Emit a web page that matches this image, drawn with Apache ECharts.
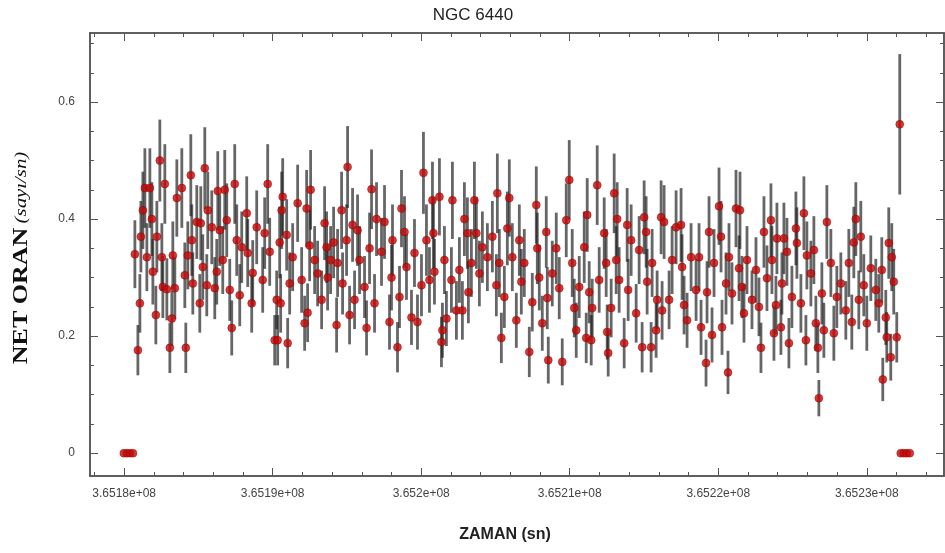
<!DOCTYPE html>
<html>
<head>
<meta charset="utf-8">
<script src="https://cdn.jsdelivr.net/npm/echarts@6/dist/echarts.min.js"></script>
<style>
html,body{margin:0;padding:0;background:#fff;}
#c{width:945px;height:553px;}
</style>
</head>
<body>
<div id="c"></div>
<script>
// ---- data (time in seconds relative to T0) ----
const T0 = 365180000;
const timeOffsets = [
-20,180,390,590,
722,924,1059,1126,1260,1395,1529,1731,1865,1933,2134,2202,2403,2538,2605,2739,2874,3076,3210,3277,3412,3546,3882,4084,4151,4286,4487,4555,4622,4891,5092,5160,5294,5429,5563,5630,5899,6101,6235,6303,6437,6639,6773,6908,7109,7244,7446,7580,7782,7916,8252,8320,8588,8656,8925,9328,9462,9664,9799,10135,10269,
10336,10471,10538,10605,10673,10942,11009,11143,11345,11681,11950,12152,12286,12353,12488,12555,12824,13026,13295,13496,13631,13698,13900,14101,14303,14370,14639,14706,14975,15043,15177,15379,15513,15715,15849,16185,16320,16522,16656,16858,16992,17328,17530,17866,18001,18068,18404,18538,18673,18875,19009,19345,19547,19749,20018,20152,20354,20555,20757,
20824,20892,21228,21362,21429,21564,21698,22034,22102,22371,22572,22774,22908,23110,23177,23379,23581,23715,23917,24119,24455,24791,25060,25127,25261,25396,25598,25799,25934,26135,26404,26606,26741,26942,27278,27480,27749,27816,27951,28152,28421,28489,28556,28825,29094,29295,29497,29766,29968,30169,30304,30438,30640,30976,31110,31178,
31312,31447,31514,31850,31984,32321,32455,32522,32590,32791,32993,33127,33195,33329,33665,33867,33934,34136,34472,34674,34875,35010,35144,35212,35480,35548,35817,35884,36153,36220,36354,36691,36892,37161,37497,37565,37699,37901,38170,38506,38707,38842,39178,39245,39380,39581,39716,40052,40187,40254,40523,40657,40724,40926,41195,41397,
41464,41598,41733,41935,42271,42540,42741,42876,43077,43279,43548,43615,43750,43884,43951,44220,44288,44422,44624,44758,44960,45229,45296,45565,45767,45901,45968,46237,46439,46573,46708,46775,46977,47111,47313,47582,47784,47985,48254,48590,48792,48994,49128,49263,49464,49599,49800,50002,50271,50607,50809,51011,51078,51280,51347,51481,51616,51683,51817,52019,52221,
52288,52490,52691,52893
];
const rates = [
0,0,0,0,
.34,.176,.256,.37,.415,.453,.335,.453,.40,.31,.236,.37,.50,.335,.284,.46,.28,.18,.23,.338,.282,.436,.453,.304,.18,.338,.475,.364,.29,.395,.256,.393,.318,.487,.287,.415,.386,.282,.31,.448,.381,.33,.45,.398,.279,.214,.46,.364,.27,.352,.41,.342,.256,.308,.386,.296,.376,.46,.344,.193,.262,
.193,.36,.256,.415,.438,.373,.188,.29,.335,.427,.296,.222,.418,.24,.355,.45,.33,.307,.262,.393,.352,.30,.33,.36,.219,.325,.415,.29,.364,.489,.236,.39,.262,.381,.33,.284,.214,.35,.451,.256,.40,.344,.395,.224,.30,.364,.181,.267,.418,.378,.318,.232,.342,.224,.287,.479,.364,.296,.432,
.376,.31,.438,.19,.21,.33,.23,.296,.432,.244,.313,.244,.40,.376,.275,.325,.432,.376,.307,.352,.335,.37,.287,.444,.325,.197,.267,.384,.436,.335,.227,.364,.293,.325,.173,.258,.424,.35,.30,.222,.378,.265,.159,.307,.35,.282,.156,.398,.467,.325,.248,.21,.284,.352,.197,.407,
.275,.193,.248,.458,.296,.376,.325,.207,.171,.248,.444,.33,.40,.296,.188,.39,.279,.364,.239,.347,.181,.403,.378,.293,.181,.325,.21,.262,.403,.244,.395,.262,.33,.386,.39,.318,.253,.227,.335,.279,.335,.215,.154,.275,.378,.202,.325,.422,.37,.215,.29,.138,.335,.273,.418,.316,
.415,.284,.239,.33,.262,.313,.25,.18,.378,.299,.398,.33,.205,.253,.367,.215,.29,.367,.344,.188,.267,.384,.359,.256,.41,.193,.338,.307,.347,.222,.18,.094,.273,.21,.395,.325,.205,.267,.29,.244,.325,.224,.36,.40,.262,.37,.287,.222,.316,.279,.256,.313,.126,.232,.198,.359,.164,.335,.293,.198,.562,
0,0,0,0
];
const errors = [
0,0,0,0,
.058,.043,.050,.061,.066,.068,.058,.068,.063,.056,.050,.061,.070,.058,.053,.068,.053,.043,.047,.058,.053,.066,.068,.056,.043,.058,.070,.061,.053,.063,.050,.063,.056,.070,.053,.066,.063,.053,.056,.068,.061,.058,.068,.063,.053,.047,.068,.061,.053,.061,.063,.058,.050,.056,.063,.056,.061,.068,.058,.043,.050,
.043,.061,.050,.066,.066,.061,.043,.053,.058,.066,.056,.047,.066,.050,.061,.068,.058,.056,.050,.063,.061,.056,.058,.061,.047,.058,.066,.053,.061,.070,.050,.063,.050,.061,.058,.053,.047,.061,.068,.050,.063,.058,.063,.047,.056,.061,.043,.053,.066,.061,.056,.047,.058,.047,.053,.070,.061,.056,.066,
.061,.056,.066,.043,.047,.058,.047,.056,.066,.050,.056,.050,.063,.061,.053,.058,.066,.061,.056,.061,.058,.061,.053,.068,.058,.043,.053,.063,.066,.058,.047,.061,.056,.058,.043,.050,.066,.061,.056,.047,.061,.053,.040,.056,.061,.053,.040,.063,.068,.058,.050,.047,.053,.061,.043,.063,
.053,.043,.050,.068,.056,.061,.058,.047,.040,.050,.068,.058,.063,.056,.043,.063,.053,.061,.050,.058,.043,.063,.061,.056,.043,.058,.047,.050,.063,.050,.063,.050,.058,.063,.063,.056,.050,.047,.058,.053,.058,.047,.040,.053,.061,.047,.058,.066,.061,.047,.053,.037,.058,.053,.066,.056,
.066,.053,.050,.058,.050,.056,.050,.043,.061,.056,.063,.058,.047,.050,.061,.047,.053,.061,.058,.043,.053,.063,.061,.050,.063,.043,.058,.056,.058,.047,.043,.031,.053,.047,.063,.058,.047,.053,.053,.050,.058,.047,.061,.063,.050,.061,.053,.047,.056,.053,.050,.056,.037,.047,.043,.061,.040,.058,.056,.043,.120,
0,0,0,0
];
// ---- axes ----
const X_MIN = 365177700, X_MAX = 365235200;
const Y_MIN = -0.039, Y_MAX = 0.718;
const xMajorTicks = [365180000, 365190000, 365200000, 365210000, 365220000, 365230000];
const xMinorTicks = [365178000,365182000,365184000,365186000,365188000,365192000,365194000,365196000,365198000,365202000,365204000,365206000,365208000,365212000,365214000,365216000,365218000,365222000,365224000,365226000,365228000,365232000,365234000];
const yMajorTicks = [0, 0.2, 0.4, 0.6];
const yMinorTicks = [0.05, 0.1, 0.15, 0.25, 0.3, 0.35, 0.45, 0.5, 0.55, 0.65, 0.7];

const AX = '#555';
const LBL = {color:'#444', fontSize:12, fontFamily:'"Liberation Sans", Arial, sans-serif'};

function xFmt(v){
  let s = (v/1e8).toFixed(4).replace(/0+$/,'').replace(/\.$/,'');
  return s + 'e+08';
}
function yFmt(v){ return v === 0 ? '0' : String(+v.toFixed(2)); }

function xAxisDef(pos, ticks, len, labels){
  return {
    type:'value', position:pos, min:X_MIN, max:X_MAX,
    axisLine:{show:true, onZero:false, lineStyle:{color:AX, width:1.5}},
    axisTick:{show:true, inside:true, length:len, customValues:ticks, lineStyle:{color:AX, width:1}},
    axisLabel: labels ? Object.assign({show:true, customValues:ticks, formatter:xFmt, margin:12}, LBL) : {show:false},
    splitLine:{show:false}, minorTick:{show:false}
  };
}
function yAxisDef(pos, ticks, len, labels){
  return {
    type:'value', position:pos, min:Y_MIN, max:Y_MAX,
    axisLine:{show:true, onZero:false, lineStyle:{color:AX, width:1.5}},
    axisTick:{show:true, inside:true, length:len, customValues:ticks, lineStyle:{color:AX, width:1}},
    axisLabel: labels ? Object.assign({show:true, customValues:ticks, formatter:yFmt, margin:15}, LBL) : {show:false},
    splitLine:{show:false}, minorTick:{show:false}
  };
}

const pointData = timeOffsets.map((t,i)=>[T0 + t, rates[i]]);
const barData = timeOffsets.map((t,i)=>[T0 + t, rates[i]-errors[i], rates[i]+errors[i]]);

const chart = echarts.init(document.getElementById('c'), null, {renderer:'canvas'});
chart.setOption({
  animation:false,
  backgroundColor:'#fff',
  grid:{left:90, right:1, top:33, bottom:77, containLabel:false},
  xAxis:[
    xAxisDef('bottom', xMajorTicks, 8, true),
    xAxisDef('bottom', xMinorTicks, 4, false),
    xAxisDef('top', xMajorTicks, 8, false),
    xAxisDef('top', xMinorTicks, 4, false)
  ],
  yAxis:[
    yAxisDef('left', yMajorTicks, 8, true),
    yAxisDef('left', yMinorTicks, 4, false),
    yAxisDef('right', yMajorTicks, 8, false),
    yAxisDef('right', yMinorTicks, 4, false)
  ],
  graphic:[
    {type:'text', x:473, y:15, style:{text:'NGC 6440', font:'17px "Liberation Sans", Arial, sans-serif', fill:'#222', align:'center', verticalAlign:'middle', textAlign:'center', textVerticalAlign:'middle'}},
    {type:'text', x:505, y:535, style:{text:'ZAMAN (sn)', font:'bold 16px "Liberation Sans", Arial, sans-serif', fill:'#222', align:'center', verticalAlign:'middle', textAlign:'center', textVerticalAlign:'middle'}},
    {type:'text', x:22, y:258, rotation:Math.PI/2, scaleX:1.3, scaleY:1, style:{
      text:'{a|NET ORAN} {b|(sayı/sn)}',
      align:'center', verticalAlign:'middle', textAlign:'center', textVerticalAlign:'middle',
      rich:{
        a:{font:'bold 20px "Liberation Serif", "Times New Roman", serif', fill:'#111'},
        b:{font:'italic 16px "Liberation Serif", "Times New Roman", serif', fill:'#111'}
      }
    }}
  ],
  series:[
    {
      type:'custom', xAxisIndex:0, yAxisIndex:0, clip:true,
      data:barData,
      encode:{x:0, y:[1,2]},
      renderItem:function(params, api){
        const t = api.value(0), lo = api.value(1), hi = api.value(2);
        if (hi - lo <= 0) return null;
        const p1 = api.coord([t, lo]);
        const p2 = api.coord([t, hi]);
        return {type:'line', shape:{x1:p1[0], y1:p1[1], x2:p2[0], y2:p2[1]},
          style:{stroke:'rgba(30,30,30,0.68)', lineWidth:2.8}};
      },
      z:1
    },
    {
      type:'scatter', xAxisIndex:0, yAxisIndex:0,
      data:pointData, symbol:'circle', symbolSize:8,
      itemStyle:{color:'#c80808', borderColor:'rgba(120,0,0,0.6)', borderWidth:0.8},
      z:2
    }
  ]
});
</script>
</body>
</html>
